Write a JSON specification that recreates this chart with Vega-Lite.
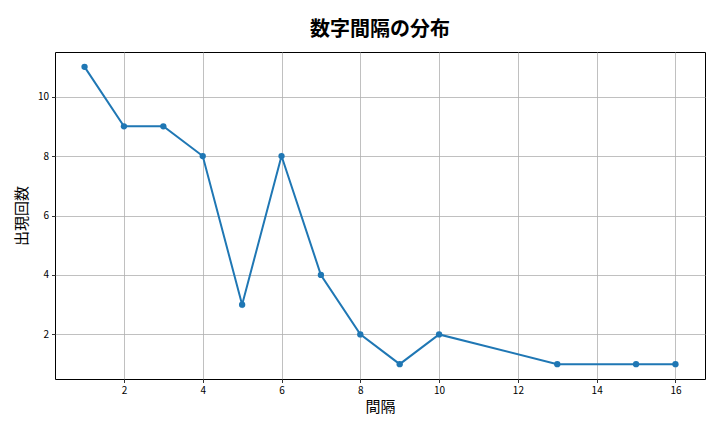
{
  "$schema": "https://vega.github.io/schema/vega-lite/v6.json",
  "width": 650,
  "height": 327,
  "autosize": "none",
  "padding": {"left": 55, "top": 52, "right": 15, "bottom": 53},
  "background": "white",
  "title": {
    "text": "数字間隔の分布",
    "fontSize": 20,
    "font": "Noto Sans CJK JP",
    "fontWeight": "bold",
    "offset": 12,
    "anchor": "middle",
    "color": "black"
  },
  "data": {
    "values": [
      {"interval": 1, "count": 11},
      {"interval": 2, "count": 9},
      {"interval": 3, "count": 9},
      {"interval": 4, "count": 8},
      {"interval": 5, "count": 3},
      {"interval": 6, "count": 8},
      {"interval": 7, "count": 4},
      {"interval": 8, "count": 2},
      {"interval": 9, "count": 1},
      {"interval": 10, "count": 2},
      {"interval": 13, "count": 1},
      {"interval": 15, "count": 1},
      {"interval": 16, "count": 1}
    ]
  },
  "encoding": {
    "x": {
      "field": "interval",
      "type": "quantitative",
      "title": "間隔",
      "scale": {"domain": [0.25, 16.75], "nice": false, "zero": false},
      "axis": {"values": [2, 4, 6, 8, 10, 12, 14, 16], "titlePadding": 4}
    },
    "y": {
      "field": "count",
      "type": "quantitative",
      "title": "出現回数",
      "scale": {"domain": [0.5, 11.5], "nice": false, "zero": false},
      "axis": {"values": [2, 4, 6, 8, 10], "titlePadding": 8}
    }
  },
  "layer": [
    {"mark": {"type": "line", "color": "#1f77b4", "strokeWidth": 2}},
    {"mark": {"type": "point", "filled": true, "color": "#1f77b4", "size": 40, "opacity": 1}}
  ],
  "config": {
    "font": "Noto Sans CJK JP",
    "view": {"stroke": "black", "strokeWidth": 1},
    "axis": {
      "domain": false,
      "grid": true,
      "gridColor": "#b0b0b0",
      "gridWidth": 0.8,
      "tickColor": "black",
      "tickSize": 3.5,
      "tickWidth": 0.8,
      "labelFontSize": 10,
      "labelColor": "black",
      "labelPadding": 3,
      "titleFontSize": 15,
      "titleFontWeight": "normal",
      "titleColor": "black"
    }
  }
}
